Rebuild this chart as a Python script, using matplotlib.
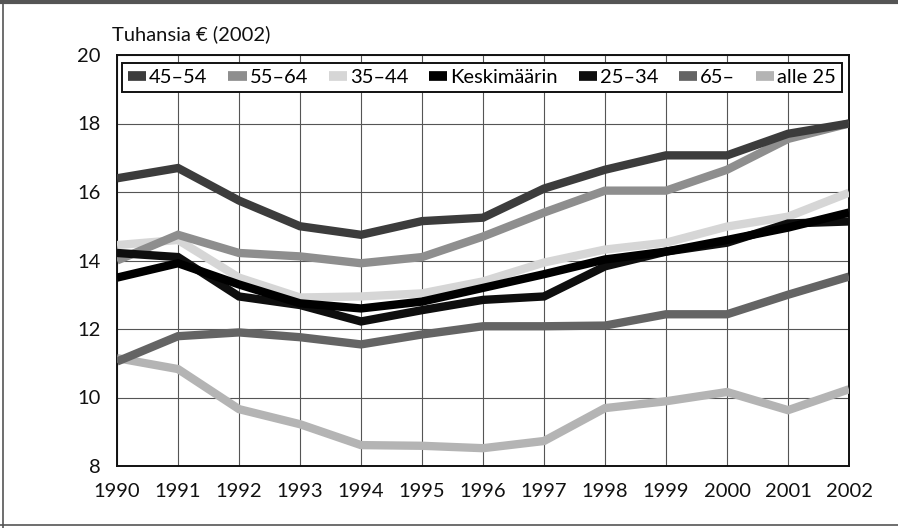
import matplotlib
matplotlib.use("Agg")
import matplotlib.pyplot as plt
from matplotlib.lines import Line2D

years = list(range(1990, 2003))

s45_54 = [16.4, 16.7, 15.75, 15.0, 14.75, 15.15, 15.25, 16.1, 16.65, 17.07, 17.07, 17.7, 18.0]
s55_64 = [14.0, 14.75, 14.22, 14.12, 13.92, 14.1, 14.7, 15.4, 16.04, 16.04, 16.65, 17.55, 18.0]
s35_44 = [14.45, 14.6, 13.5, 12.92, 12.95, 13.04, 13.39, 13.94, 14.32, 14.52, 14.99, 15.28, 15.98]
keski = [13.5, 13.92, 13.3, 12.75, 12.6, 12.8, 13.2, 13.6, 14.03, 14.26, 14.6, 14.96, 15.4]
s25_34 = [14.22, 14.1, 12.95, 12.7, 12.22, 12.55, 12.85, 12.95, 13.83, 14.26, 14.52, 15.08, 15.14]
s65 = [11.05, 11.79, 11.9, 11.76, 11.55, 11.84, 12.08, 12.08, 12.1, 12.43, 12.43, 13.0, 13.53]
alle25 = [11.15, 10.83, 9.66, 9.22, 8.61, 8.59, 8.52, 8.73, 9.69, 9.89, 10.16, 9.63, 10.24]

labels = ["45\u201354", "55\u201364", "35\u201344", "Keskimäärin", "25\u201334", "65\u2013", "alle 25"]
series = [s45_54, s55_64, s35_44, keski, s25_34, s65, alle25]
colors = ["#3c3c3c", "#8e8e8e", "#d6d6d6", "#000000", "#0e0e0e", "#646464", "#b4b4b4"]

yticks = [8, 10, 12, 14, 16, 18, 20]

plt.rcParams['font.family'] = ['Lato', 'DejaVu Sans']

fig = plt.figure(figsize=(8.98, 5.28), dpi=100)
ax = fig.add_axes([117/898, 1-466/528, (849-117)/898, (466-55)/528])

order = [6, 5, 2, 1, 0, 4, 3]
for i in order:
    ax.plot(years, series[i], color=colors[i], lw=6.0, solid_joinstyle='miter',
            solid_capstyle='butt', label=labels[i], zorder=3)

ax.set_xlim(1990, 2002)
ax.set_ylim(8, 20)
ax.set_xticks(years)
ax.set_yticks(yticks)
ax.grid(True, color="#555555", lw=0.8, zorder=0)
ax.set_axisbelow(True)
ax.tick_params(length=0, labelsize=14.5, pad=12, colors="#111111")
for sp in ax.spines.values():
    sp.set_linewidth(1.4)
    sp.set_color("#111111")

leg_handles = [Line2D([0], [0], color=colors[i], lw=7, solid_capstyle='butt') for i in range(7)]
leg = ax.legend(leg_handles, labels, loc='upper left', ncol=7,
                bbox_to_anchor=(5/732, 0.98, 720/732, 0.0), mode="expand",
                fontsize=14.5, handlelength=0.9, handletextpad=0.15, columnspacing=0.6,
                frameon=True, fancybox=False, edgecolor="#111111", framealpha=1,
                borderpad=0.3, borderaxespad=0)
leg.get_frame().set_linewidth(1.4)
leg.set_zorder(5)

fig.text(112/898, 1-34/528, "Tuhansia € (2002)", fontsize=14.5, va='center', ha='left', color="#111111")

fig.add_artist(Line2D([0, 1], [0.996, 0.996], transform=fig.transFigure, color="#555555", lw=3))
fig.add_artist(Line2D([3/898, 3/898], [0, 1], transform=fig.transFigure, color="#555555", lw=1.2))
fig.add_artist(Line2D([0, 1], [3/528, 3/528], transform=fig.transFigure, color="#555555", lw=1.2))

fig.savefig("out.png", dpi=100)
